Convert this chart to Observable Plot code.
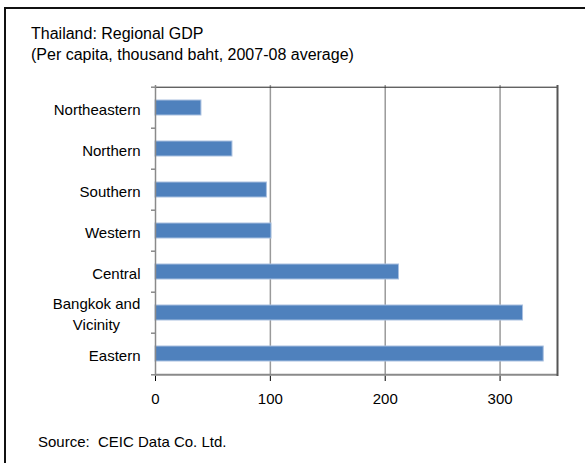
<!DOCTYPE html>
<html>
<head>
<meta charset="utf-8">
<script src="https://cdn.jsdelivr.net/npm/d3@7"></script>
<script src="https://cdn.jsdelivr.net/npm/@observablehq/plot@0.6"></script>
<style>
  html, body { margin: 0; padding: 0; background: #fff; }
  body { width: 585px; height: 463px; overflow: hidden; position: relative; font-family: "Liberation Sans", Arial, sans-serif; color: #000; }
  #frame { position: absolute; left: 4px; top: 7px; width: 700px; height: 700px; border-left: 2px solid #111; border-top: 2px solid #111; z-index: 2; pointer-events: none; }
  #title { position: absolute; left: 31px; top: 23px; font-size: 16px; line-height: 21px; white-space: nowrap; z-index: 3; }
  #source { position: absolute; left: 38px; top: 434px; font-size: 15px; line-height: 15px; white-space: nowrap; z-index: 3; }
  #chart { position: absolute; left: 0; top: 0; z-index: 1; }
</style>
</head>
<body>
<div id="frame"></div>
<div id="title">Thailand: Regional GDP<br>(Per capita, thousand baht, 2007-08 average)</div>
<div id="chart"></div>
<div id="source">Source:&nbsp; CEIC Data Co. Ltd.</div>
<script>
const regions = ["Northeastern", "Northern", "Southern", "Western", "Central", "Bangkok and Vicinity", "Eastern"];
const gdp = [40, 67, 97, 101, 212, 320, 338];
const regionLabels = ["Northeastern", "Northern", "Southern", "Western", "Central", "Bangkok and\nVicinity", "Eastern"];
const xTicks = [0, 100, 200, 300];
const xDomain = [0, 350];

const data = regions.map((r, i) => ({region: r, value: gdp[i], label: regionLabels[i]}));

const W = 585, H = 463, mT = 85, mB = 87, mL = 155, mR = 28;
const half = (H - mT - mB) / regions.length / 2;
const tickLen = 4;
const tickData = -tickLen * (xDomain[1] - xDomain[0]) / (W - mL - mR);  // tick length in data units
const axisGrey = "#8a8a8a";

const chart = Plot.plot({
  width: W,
  height: H,
  marginTop: mT,
  marginBottom: mB,
  marginLeft: mL,
  marginRight: mR,
  style: {background: "transparent", fontFamily: "'Liberation Sans', Arial, sans-serif", fontSize: "15px", color: "#000"},
  x: {domain: xDomain, ticks: xTicks, tickSize: 5, tickPadding: 12, label: null, tickFormat: d => String(d)},
  y: {domain: regions, paddingInner: 0.63, paddingOuter: 0.315, axis: null},
  marks: [
    Plot.ruleX(xTicks.filter(d => d > 0), {stroke: "#9a9a9a", strokeWidth: 1.5}),
    Plot.barX(data, {x: "value", y: "region", fill: "#4f81bd", stroke: "#a9c0e0", strokeWidth: 1}),
    // plot border: top (black), right (dark grey), bottom and left axis lines (grey)
    Plot.ruleY([regions[0]], {dy: -half, stroke: "#222", strokeWidth: 1}),
    Plot.ruleY([regions[regions.length - 1]], {dy: half, stroke: axisGrey, strokeWidth: 2}),
    Plot.ruleX([xDomain[1]], {stroke: "#555", strokeWidth: 2}),
    Plot.ruleX([0], {stroke: axisGrey, strokeWidth: 1.5}),
    // y axis ticks at band boundaries
    Plot.ruleY(regions, {x1: tickData, x2: 0, dy: -half, stroke: axisGrey, strokeWidth: 1.5}),
    Plot.ruleY([regions[regions.length - 1]], {x1: tickData, x2: 0, dy: half, stroke: axisGrey, strokeWidth: 1.5}),
    // y labels
    Plot.text(data, {y: "region", text: "label", frameAnchor: "left", textAnchor: "end", dx: -15, fontSize: 15, lineHeight: 1.38, fill: "#000"})
  ]
});

document.getElementById("chart").append(chart);

// grey x-axis tick marks
chart.querySelectorAll("g.tick line, [aria-label='x-axis'] line").forEach(l => {
  l.setAttribute("stroke", axisGrey);
  l.setAttribute("stroke-width", 1.5);
});
chart.querySelectorAll("[aria-label='x-axis'] path.domain").forEach(p => p.remove());

// centre-justify multi-line category labels, keeping the block right-aligned
chart.querySelectorAll("text").forEach(t => {
  const spans = t.querySelectorAll("tspan");
  if (spans.length > 1) {
    const w = t.getBBox().width;
    t.setAttribute("text-anchor", "middle");
    spans.forEach(s => s.setAttribute("x", -w / 2));
  }
});
</script>
</body>
</html>
